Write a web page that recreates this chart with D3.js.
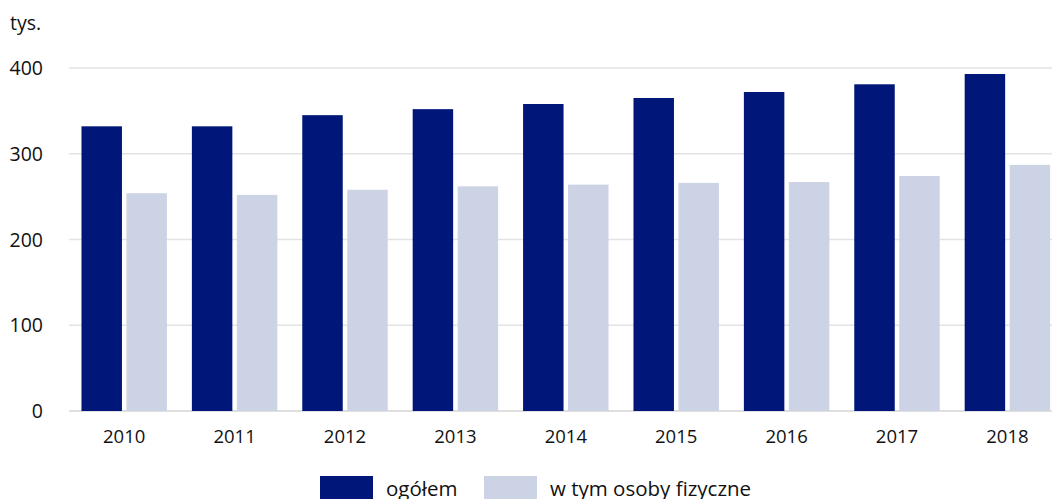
<!DOCTYPE html>
<html>
<head>
<meta charset="utf-8">
<script src="https://cdn.jsdelivr.net/npm/d3@7"></script>
<style>
  body { margin: 0; background: #fff; }
  text { font-family: "Open Sans", "Noto Sans", sans-serif; fill: #111; }
</style>
</head>
<body>
<div id="chart"></div>
<script>
// data (tys.)
var years = ["2010", "2011", "2012", "2013", "2014", "2015", "2016", "2017", "2018"];
var ogolem = [332, 332, 345, 352, 358, 365, 372, 381, 393];
var osobyFizyczne = [254, 252, 258, 262, 264, 266, 267, 274, 287];
var seriesNames = ["ogółem", "w tym osoby fizyczne"];
var seriesColors = ["#001679", "#ccd3e5"];
var yTicks = [0, 100, 200, 300, 400];

var W = 1052, H = 499;
var margin = {top: 68, left: 69, bottom: 88};
var plotBottom = H - margin.bottom; // 411

var svg = d3.select("#chart")
  .append("svg")
    .attr("width", W)
    .attr("height", H);

var rows = years.map(function(y, i) {
  return {year: y, values: [ogolem[i], osobyFizyczne[i]]};
});

// scales
var x0 = d3.scaleBand()
  .domain(years)
  .range([margin.left, margin.left + 9 * 110.4])
  .paddingInner(0.226)
  .paddingOuter(0.113);

var x1 = d3.scaleBand()
  .domain([0, 1])
  .range([0, x0.bandwidth()])
  .paddingInner(0.1);

var y = d3.scaleLinear()
  .domain([0, 400])
  .range([plotBottom, margin.top]);

// grid lines
svg.append("g")
  .selectAll("line")
  .data(yTicks)
  .enter()
  .append("line")
    .attr("x1", margin.left)
    .attr("x2", W)
    .attr("y1", function(d) { return y(d); })
    .attr("y2", function(d) { return y(d); })
    .attr("stroke", function(d) { return d === 0 ? "#d4d4d4" : "#e3e3e3"; })
    .attr("stroke-width", 1.5);

// y labels
svg.append("g")
  .selectAll("text")
  .data(yTicks)
  .enter()
  .append("text")
    .attr("x", 43)
    .attr("y", function(d) { return y(d); })
    .attr("dy", "0.36em")
    .attr("text-anchor", "end")
    .style("font-size", "19.5px")
    .text(function(d) { return d; });

svg.append("text")
  .attr("x", 10)
  .attr("y", 30)
  .style("font-size", "19.5px")
  .text("tys.");

// bars
var groups = svg.append("g")
  .selectAll("g")
  .data(rows)
  .enter()
  .append("g")
    .attr("transform", function(d) { return "translate(" + x0(d.year) + ",0)"; });

groups.selectAll("rect")
  .data(function(d) { return d.values; })
  .enter()
  .append("rect")
    .attr("x", function(d, i) { return x1(i); })
    .attr("y", function(d) { return y(d); })
    .attr("width", x1.bandwidth())
    .attr("height", function(d) { return y(0) - y(d); })
    .attr("fill", function(d, i) { return seriesColors[i]; });

// x labels
var xAxis = svg.append("g")
  .attr("transform", "translate(0," + plotBottom + ")")
  .call(d3.axisBottom(x0).tickSize(0).tickPadding(19));
xAxis.select(".domain").remove();
xAxis.selectAll("text")
  .style("font-size", "18.5px")
  .style("font-family", "'Open Sans', 'Noto Sans', sans-serif")
  .attr("fill", "#111");

// legend
var legendX = [320, 484];
var legend = svg.append("g")
  .selectAll("g")
  .data(seriesNames)
  .enter()
  .append("g")
    .attr("transform", function(d, i) { return "translate(" + legendX[i] + ",476)"; });

legend.append("rect")
  .attr("width", 53)
  .attr("height", 24)
  .attr("fill", function(d, i) { return seriesColors[i]; });

legend.append("text")
  .attr("x", 66)
  .attr("y", 20)
  .style("font-size", "20.5px")
  .text(function(d) { return d; });
</script>
</body>
</html>
